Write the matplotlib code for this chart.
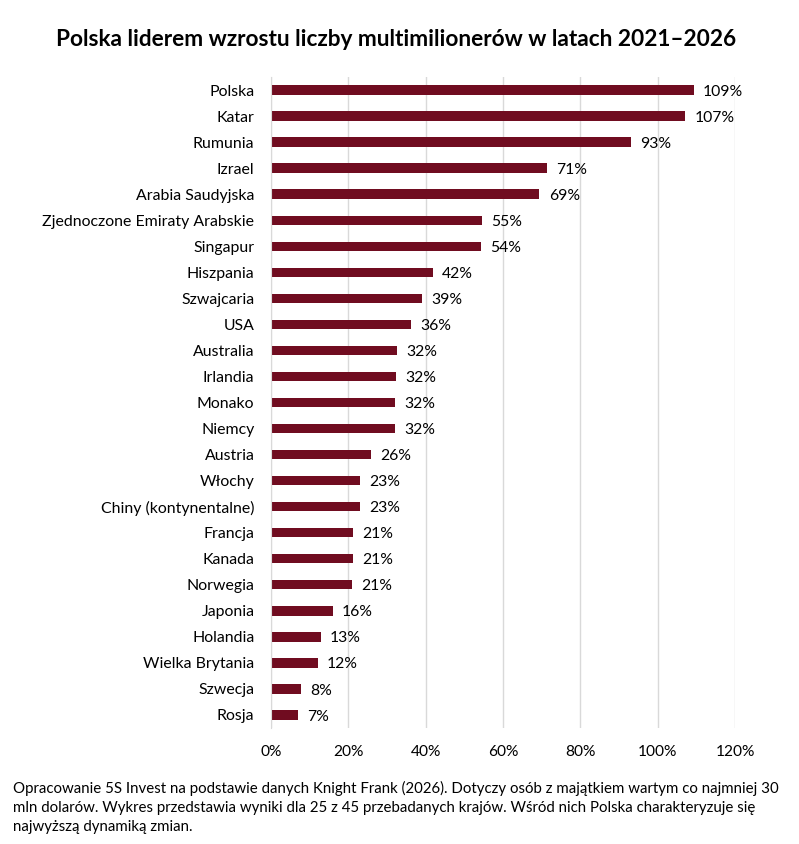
import matplotlib
matplotlib.use("Agg")
import matplotlib.pyplot as plt
from matplotlib.ticker import FuncFormatter, MultipleLocator

countries = ["Polska", "Katar", "Rumunia", "Izrael", "Arabia Saudyjska",
             "Zjednoczone Emiraty Arabskie", "Singapur", "Hiszpania", "Szwajcaria",
             "USA", "Australia", "Irlandia", "Monako", "Niemcy", "Austria", "Włochy",
             "Chiny (kontynentalne)", "Francja", "Kanada", "Norwegia", "Japonia",
             "Holandia", "Wielka Brytania", "Szwecja", "Rosja"]
values = [109.3, 107.1, 93.1, 71.4, 69.4, 54.6, 54.4, 41.9, 39.0, 36.2, 32.5, 32.3,
          32.0, 32.0, 25.8, 23.0, 23.0, 21.2, 21.1, 20.9, 16.0, 12.9, 12.1, 7.8, 7.0]
labels = ["109%", "107%", "93%", "71%", "69%", "55%", "54%", "42%", "39%", "36%",
          "32%", "32%", "32%", "32%", "26%", "23%", "23%", "21%", "21%", "21%",
          "16%", "13%", "12%", "8%", "7%"]

title = "Polska liderem wzrostu liczby multimilionerów w latach 2021–2026"
note = ("Opracowanie 5S Invest na podstawie danych Knight Frank (2026). Dotyczy osób z majątkiem wartym co najmniej 30\n"
        "mln dolarów. Wykres przedstawia wyniki dla 25 z 45 przebadanych krajów. Wśród nich Polska charakteryzuje się\n"
        "najwyższą dynamiką zmian.")

plt.rcParams['font.family'] = ['Lato', 'DejaVu Sans']

W, H = 799, 844
fig = plt.figure(figsize=(W / 100, H / 100), dpi=100)
ax = fig.add_axes([271 / W, (H - 728) / H, (735 - 271) / W, (728 - 77) / H])

color = "#700C20"
y = list(range(len(countries)))
ax.barh(y, values, height=0.36, color=color, zorder=3)
for yi, v, lab in zip(y, values, labels):
    ax.text(v + 2.4, yi + 0.06, lab, va="center", ha="left", fontsize=11.3, color="black")

ax.set_yticks(y)
ax.set_yticklabels(countries, fontsize=11.4)
ax.set_ylim(len(countries) - 0.5, -0.5)
ax.set_xlim(0, 120)
ax.xaxis.set_major_locator(MultipleLocator(20))
ax.xaxis.set_major_formatter(FuncFormatter(lambda v, p: f"{int(round(v))}%"))
ax.tick_params(axis="x", labelsize=11.2, length=0, pad=12)
ax.tick_params(axis="y", length=0, pad=12)
ax.grid(axis="x", color="#D9D9D9", linewidth=1, zorder=0)
for s in ["top", "right", "bottom"]:
    ax.spines[s].set_visible(False)
ax.spines["left"].set_color("#D9D9D9")
ax.spines["left"].set_zorder(4)

fig.text(0.5 * (57 + 735) / W, 1 - 40 / H, title, ha="center", va="center",
         fontsize=16.3, fontweight="bold")
fig.text(13 / W, 1 - 781 / H, note, ha="left", va="top", fontsize=10.8, linespacing=1.47)

fig.savefig("out.png", dpi=100)
